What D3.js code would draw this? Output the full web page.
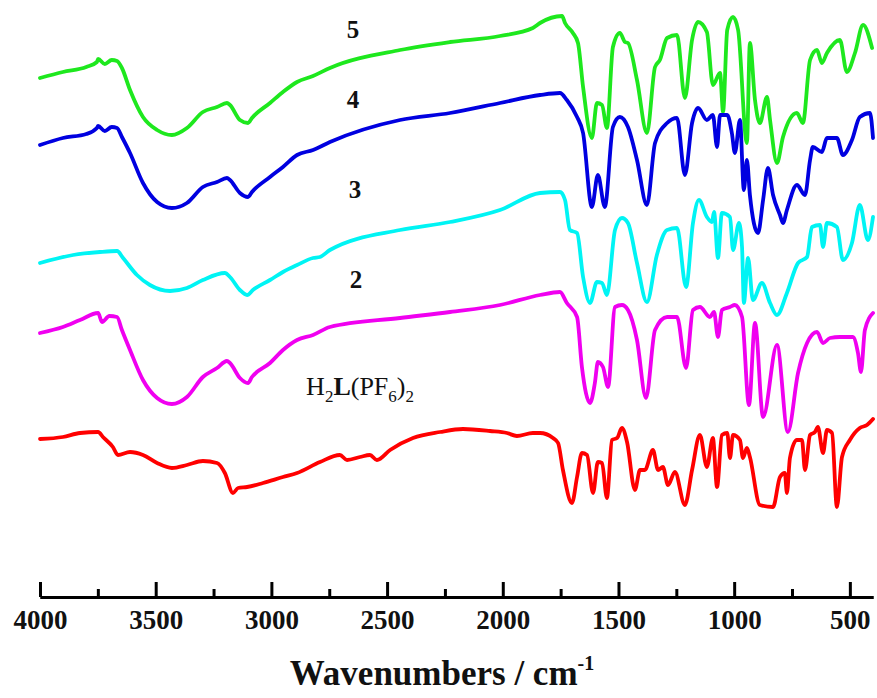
<!DOCTYPE html>
<html>
<head>
<meta charset="utf-8">
<script src="https://cdn.jsdelivr.net/npm/d3@7.9.0/dist/d3.min.js"></script>
<style>
  body { margin: 0; background: #fff; }
  svg text { font-family: "Liberation Serif", "Times New Roman", serif; fill: #111; }
</style>
</head>
<body>
<svg id="chart" width="877" height="698"></svg>
<script>
// tick values (cm-1)
const majorTicks = [4000, 3500, 3000, 2500, 2000, 1500, 1000, 500];
const minorTicks = [3750, 3250, 2750, 2250, 1750, 1250, 750];

// spectra, [wavenumber, relative transmittance (offset, arbitrary units)]
const spec5 = [
  [4000,522],[3901,528],[3800,533],[3754,538],[3749,541],[3720,536],[3690,540],[3667,539],[3646,532],[3611,510],[3555,483],
  [3494,470],[3430,465],[3365,472],[3296,488],[3235,493],[3192,497],[3179,495],[3136,480],
  [3101,477],[3084,482],[3006,497],[2950,508],[2889,518],[2820,524],[2747,532],[2444,550],
  [2228,558],[2012,564],[1870,572],[1839,577],[1744,584],[1731,577],[1697,567],[1675,557],
  [1653,513],[1615,462],[1593,497],[1571,495],[1550,472],[1524,553],[1494,567],[1472,558],
  [1459,557],[1420,520],[1377,467],[1342,533],[1321,540],[1290,562],[1247,565],[1213,502],
  [1182,560],[1156,578],[1118,568],[1092,515],[1061,527],[1048,488],[1030,570],[1005,583],
  [983,570],[945,457],[932,557],[910,500],[889,477],[858,503],[845,480],[815,437],[789,463],
  [729,487],[703,477],[672,540],[642,550],[621,537],[599,547],[543,560],[513,528],[478,547],
  [443,575],[404,552]
];
const spec4 = [
  [4000,455],[3901,462],[3800,466],[3754,472],[3749,474],[3720,469],[3690,473],[3667,472],[3646,463],[3611,447],[3555,417],
  [3494,398],[3430,392],[3365,397],[3296,413],[3235,418],[3192,422],[3179,420],[3136,407],
  [3101,403],[3084,408],[3006,423],[2950,433],[2889,445],[2820,450],[2747,458],[2444,480],
  [2228,487],[2012,497],[1839,505],[1753,507],[1723,500],[1679,483],[1653,467],[1615,393],
  [1589,425],[1559,393],[1524,473],[1494,483],[1459,473],[1420,440],[1377,395],[1342,457],
  [1290,477],[1247,482],[1213,425],[1182,477],[1156,492],[1118,480],[1092,485],[1074,453],
  [1061,485],[1030,485],[1010,467],[997,447],[975,480],[958,410],[945,440],[932,405],
  [897,367],[875,400],[854,432],[832,405],[802,385],[789,377],[772,390],[729,415],[694,405],
  [672,440],[660,453],[621,448],[599,462],[556,462],[530,445],[491,460],[457,483],[413,487],
  [400,462]
];
const spec3 = [
  [4000,337],[3857,345],[3741,348],[3667,349],[3641,342],[3581,325],[3525,315],[3438,309],
  [3365,312],[3296,320],[3201,327],[3179,323],[3136,310],[3105,305],[3080,310],[3006,320],
  [2950,328],[2889,335],[2820,342],[2790,343],[2747,350],[2444,370],[2228,378],[2012,390],
  [1839,407],[1753,408],[1731,400],[1710,370],[1679,367],[1653,323],[1623,297],[1593,318],
  [1571,317],[1550,305],[1515,370],[1485,382],[1459,377],[1420,337],[1377,298],[1334,345],
  [1290,370],[1247,372],[1208,313],[1178,377],[1152,400],[1118,383],[1096,378],[1087,388],
  [1070,342],[1053,387],[1018,383],[1005,350],[979,377],[966,353],[958,297],[940,342],
  [919,300],[880,317],[845,297],[815,285],[772,307],[724,337],[685,343],[664,373],[629,375],
  [616,353],[599,377],[556,373],[530,340],[491,357],[457,395],[422,360],[400,383]
];
const spec2 = [
  [4000,267],[3901,273],[3827,280],[3749,287],[3732,278],[3700,284],[3667,283],[3646,270],[3611,250],
  [3555,220],[3494,202],[3430,196],[3365,203],[3296,223],[3235,232],[3192,239],[3179,237],
  [3136,222],[3101,217],[3084,223],[3006,237],[2950,250],[2889,260],[2820,265],[2747,273],
  [2444,282],[2228,288],[2012,295],[1839,305],[1753,308],[1723,297],[1679,283],[1658,233],
  [1623,197],[1602,217],[1589,238],[1567,233],[1545,213],[1515,293],[1485,295],[1459,290],
  [1420,260],[1381,202],[1342,270],[1290,283],[1247,283],[1208,232],[1178,290],[1148,293],
  [1105,283],[1087,288],[1070,263],[1053,290],[1018,293],[997,295],[966,283],[936,195],
  [910,277],[875,183],[815,255],[768,168],[724,227],[685,257],[642,268],[616,257],[586,262],
  [543,263],[487,263],[465,247],[452,228],[435,270],[400,287]
];
const specH2L = [
  [4000,161],[3901,163],[3827,167],[3749,168],[3728,163],[3685,153],[3663,145],[3611,148],
  [3555,145],[3494,137],[3430,132],[3365,135],[3296,139],[3235,137],[3201,127],[3166,107],
  [3144,112],[3105,113],[3036,117],[2950,123],[2889,127],[2790,138],[2704,145],[2673,140],
  [2617,143],[2574,145],[2544,140],[2487,150],[2388,162],[2271,168],[2172,171],[2055,169],
  [1982,167],[1939,164],[1870,167],[1839,167],[1783,162],[1761,157],[1740,130],[1701,97],
  [1679,123],[1658,147],[1636,145],[1610,107],[1589,138],[1571,137],[1550,102],[1528,160],
  [1506,162],[1485,172],[1463,158],[1429,110],[1407,130],[1386,130],[1351,150],[1329,130],
  [1308,133],[1286,115],[1256,128],[1213,95],[1182,130],[1148,165],[1118,133],[1092,162],
  [1074,113],[1053,165],[1030,167],[1018,142],[1005,165],[975,160],[962,142],[945,152],
  [932,143],[889,95],[832,93],[802,123],[781,127],[772,107],[759,142],[729,160],[707,160],
  [694,130],[672,165],[651,168],[638,173],[616,147],[599,170],[577,167],[556,93],[534,143],
  [500,160],[457,172],[426,175],[400,181]
];

const seriesData = [spec5, spec4, spec3, spec2, specH2L];
const seriesColors = ["#1ee81e", "#0000e0", "#00f4f4", "#f000f0", "#ff0000"];

// labels: text, wavenumber, level (same units as spectra)
const numLabels = [["5", 2647, 562], ["4", 2647, 492], ["3", 2639, 402], ["2", 2634, 312]];
const h2lLabel = [2850, 205];

const serif = '"Liberation Serif", "Times New Roman", serif';

const svg = d3.select('#chart');
const x = d3.scaleLinear().domain([4000, 400]).range([40, 873]);
const y = d3.scaleLinear().domain([0, 600]).range([600, 0]);
const axisY = 597;

// spectra
const line = d3.line()
  .x(d => x(d[0]))
  .y(d => y(d[1]))
  .curve(d3.curveMonotoneX);

svg.append('g').selectAll('path')
  .data(seriesData)
  .join('path')
  .attr('d', line)
  .attr('fill', 'none')
  .attr('stroke', (d, i) => seriesColors[i])
  .attr('stroke-width', 3.8)
  .attr('stroke-linejoin', 'round')
  .attr('stroke-linecap', 'round');

// x axis, ticks pointing up
const gMinor = svg.append('g').attr('transform', `translate(0,${axisY})`)
  .call(d3.axisBottom(x).tickValues(minorTicks).tickSizeInner(-8).tickSizeOuter(0).tickFormat(''));
const gMajor = svg.append('g').attr('transform', `translate(0,${axisY})`)
  .call(d3.axisBottom(x).tickValues(majorTicks).tickSizeInner(-15).tickSizeOuter(0)
    .tickPadding(13).tickFormat(d3.format('d')));

[gMinor, gMajor].forEach(g => {
  g.selectAll('path, line').attr('stroke', '#000').attr('stroke-width', 3);
});
gMajor.select('.domain').attr('stroke-width', 3.2);
gMajor.attr('font-family', serif).attr('font-size', 27).attr('font-weight', 'bold');
gMajor.selectAll('text')
  .attr('fill', '#111')
  .style('font-family', serif)
  .style('font-size', '27px')
  .style('font-weight', 'bold');

// axis title
const title = svg.append('text')
  .attr('x', 442).attr('y', 685)
  .attr('text-anchor', 'middle')
  .style('font-size', '35px').style('font-weight', 'bold');
title.append('tspan').text('Wavenumbers / cm');
title.append('tspan').attr('dy', -15).style('font-size', '20px').text('-1');

// series numbers
svg.append('g').selectAll('text')
  .data(numLabels)
  .join('text')
  .attr('x', d => x(d[1])).attr('y', d => y(d[2]))
  .attr('text-anchor', 'middle')
  .style('font-size', '25px').style('font-weight', 'bold')
  .text(d => d[0]);

// H2L(PF6)2 label
const lab = svg.append('text')
  .attr('x', x(h2lLabel[0])).attr('y', y(h2lLabel[1]))
  .style('font-size', '26px');
lab.append('tspan').text('H');
lab.append('tspan').attr('dy', 7).style('font-size', '17px').text('2');
lab.append('tspan').attr('dy', -7).style('font-weight', 'bold').text('L');
lab.append('tspan').text('(PF');
lab.append('tspan').attr('dy', 7).style('font-size', '17px').text('6');
lab.append('tspan').attr('dy', -7).text(')');
lab.append('tspan').attr('dy', 7).style('font-size', '17px').text('2');
</script>
</body>
</html>
